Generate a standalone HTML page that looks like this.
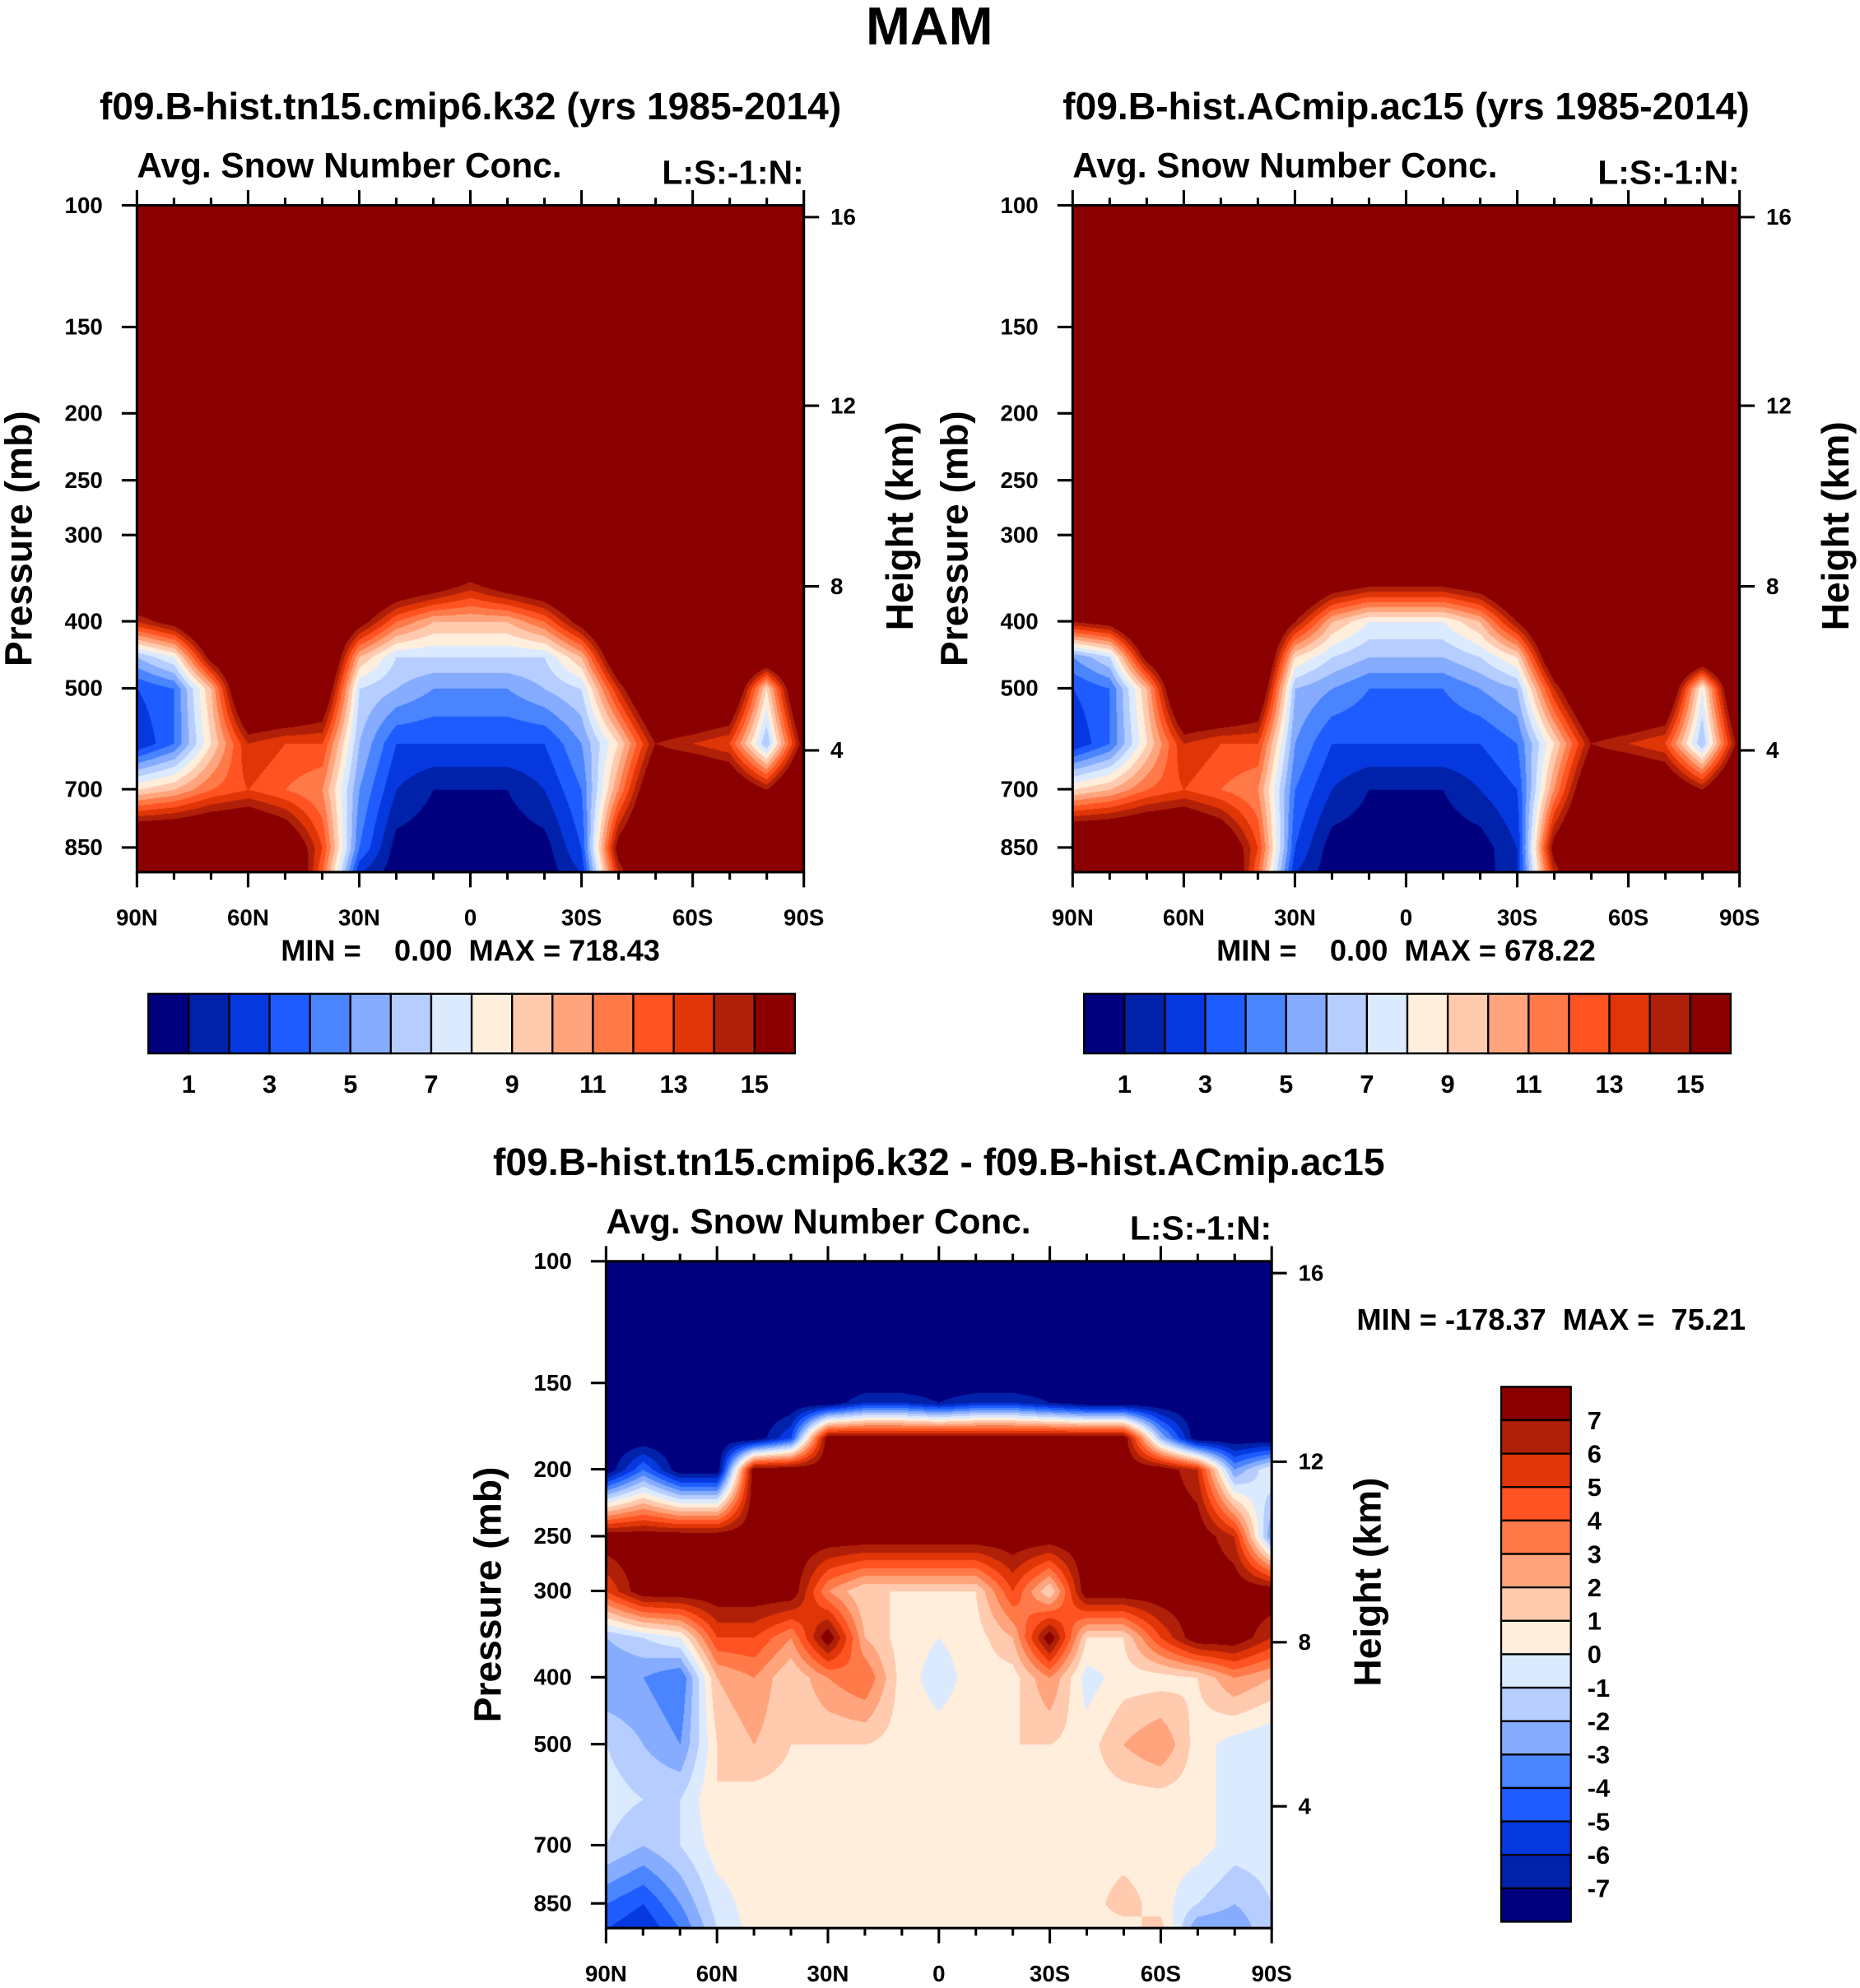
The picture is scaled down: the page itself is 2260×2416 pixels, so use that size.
<!DOCTYPE html>
<html><head><meta charset="utf-8"><style>
html,body{margin:0;padding:0;background:#fff;}
#wrap{position:relative;width:2260px;height:2416px;overflow:hidden;}
#stage{position:absolute;left:0;top:0;width:1467px;height:1568px;transform:scale(1.54055);transform-origin:0 0;}
canvas{position:absolute;}
svg{position:absolute;left:0;top:0;}
text{font-family:"Liberation Sans",sans-serif;font-weight:bold;fill:#000;white-space:pre;}
</style></head><body>
<div id="wrap"><div id="stage">
<canvas id="c1" style="left:108px;top:162px;width:526px;height:526px"></canvas>
<canvas id="c2" style="left:846px;top:162px;width:526px;height:526px"></canvas>
<canvas id="c3" style="left:478px;top:995px;width:525px;height:526px"></canvas>
<svg id="ov" width="1467" height="1568" viewBox="0 0 1467 1568"></svg>
</div></div>
<script>
const lats=[90,80,70,60,50,40,30,20,10,0,-10,-20,-30,-40,-50,-60,-70,-80,-90];
const presA=[100,150,200,250,300,350,400,450,500,600,700,850,925];
const field1=[
[20,20,20,15,18,20,20,20,20,20,20,20,20,20,15,16,20,20,20],
[20,20,20,20,20,20,20,20,20,20,20,20,20,20,20,20,20,20,20],
[20,20,20,20,20,20,20,20,20,20,20,20,20,20,20,20,20,20,20],
[20,20,20,20,20,20,20,20,20,20,20,20,20,20,20,20,20,20,20],
[20,20,20,20,20,20,20,20,20,20,20,20,20,20,20,20,20,20,20],
[20,20,20,20,20,20,20,18,17,15,17,18,20,20,20,20,20,20,20],
[14,16,20,20,20,20,16,12,10,10,10,12,16,20,20,20,20,20,20],
[6,8,16,20,20,20,10,7,7,7,7,7,10,18,20,20,20,18,20],
[3,4,10,20,20,18,7,6,5,5,5,6,7,14,20,20,19,9,20],
[2,4,9,14,13,13,6,3,3,3,3,3,5,9,15,14,13,6,16],
[9,10,12,13,12,11,5,2,1,1,1,2,4,11,18,19,18,15,20],
[20,20,20,20,18,13,4,0.5,0.3,0.3,0.3,0.5,3,16,20,20,20,20,20],
[20,20,20,20,20,12,2,0.3,0.2,0.2,0.2,0.3,2,14,20,20,20,20,20]];
const field2=[
[20,20,20,15,18,20,20,20,20,20,20,20,20,20,15,16,20,20,20],
[20,20,20,20,20,20,20,20,20,20,20,20,20,20,20,20,20,20,20],
[20,20,20,20,20,20,20,20,20,20,20,20,20,20,20,20,20,20,20],
[20,20,20,20,20,20,20,20,20,20,20,20,20,20,20,20,20,20,20],
[20,20,20,20,20,20,20,20,20,20,20,20,20,20,20,20,20,20,20],
[20,20,20,20,20,20,20,17,16,16,16,17,20,20,20,20,20,20,20],
[15,16,20,20,20,20,15,10,8,8,8,10,15,20,20,20,20,20,20],
[5,7,16,20,20,20,9,7,6,6,6,7,9,18,20,20,20,18,20],
[3,4,10,20,20,18,6,5,4,4,4,5,6,14,20,20,19,8,20],
[2,4,9,14,13,13,5,3,3,3,3,3,4,9,15,14,13,6,16],
[9,10,12,13,12,11,4,2,1,1,1,2,3,11,18,19,18,15,20],
[20,20,20,20,18,13,3,0.4,0.3,0.3,0.3,0.4,2,16,20,20,20,20,20],
[20,20,20,20,20,12,2,0.3,0.2,0.2,0.2,0.3,2,14,20,20,20,20,20]];
const presD=[100,150,160,180,200,250,300,350,400,500,600,700,850,925];
const fieldD=[
[-8,-8,-8,-8,-8,-8,-8,-8,-8,-8,-8,-8,-8,-8,-8,-8,-8,-8,-8],
[-8,-8,-8,-8,-8,-8,-8,-8,-8,-8,-8,-8,-8,-8,-8,-8,-8,-8,-8],
[-8,-8,-8,-8,-8,-8,-8,-6,-6,-7,-6,-6,-7,-8,-8,-8,-8,-8,-8],
[-8,-8,-8,-8,-8,-5,8,8,8,8,8,8,8,8,8,-2,-8,-8,-8],
[-8,-4,-8,-8,8,8,8,8,8,8,8,8,8,8,8,8,6,-3,0],
[8,8,8,8,8,8,8,8,8,8,8,8,8,8,8,8,8,6,-3],
[5,8,8,8,8,8,3,1,1,1,1,5,1,8,8,8,8,8,8],
[-2,-1,0,5,5,3,8,2,0.5,0,0.5,2,8,1,1,5,8,8,6],
[-3,-3,-4,2,3,1,3,4,0.5,-0.5,0.5,0.5,3,-0.5,0.5,0.5,1,3,2],
[-1,-2,-3,1,2,1,1,1,0.5,0.5,0.5,1,1,0.5,2,3,0.5,-0.5,-1],
[-0.5,-1,-1,1,0.5,0.5,0.5,0.5,0.5,0.5,0.5,0.5,0.5,0.5,0.5,0.5,0.5,-0.5,-0.5],
[-1,-2,-1,0.5,0.5,0.5,0.5,0.5,0.5,0.5,0.5,0.5,0.5,0.5,0.5,0.5,0.5,-0.5,-0.5],
[-4,-5,-3,-0.5,0.5,0.5,0.5,0.5,0.5,0.5,0.5,0.5,0.5,0.5,1.5,0.5,-1,-2,-1],
[-5,-6,-4,-1,0.5,0.5,0.5,0.5,0.5,0.5,0.5,0.5,0.5,0.5,0.5,1.5,-3,-3,-1]];
const absLabels=['1','3','5','7','9','11','13','15'];
const diffLabels=['7','6','5','4','3','2','1','0','-1','-2','-3','-4','-5','-6','-7'];
const pTicks=[100,150,200,250,300,400,500,700,850];
const hTicks=[16,12,8,4];
const hTickPres=[104,195,356,615];
const latLabels=['90N','60N','30N','0','30S','60S','90S'];
const colors=['#00007f','#0022aa','#0638e0','#1e5cff','#4a84ff','#86acff','#b6ceff','#dceaff','#ffeedc','#ffcaae','#ffa47c','#ff7a48','#ff5322','#e03506','#b02008','#8a0000'];

const S=1.54055, PTOP=100, DEC=545;
function yOfP(p,y0){return y0+Math.log10(p/PTOP)*DEC;}
function draw(id,lats,pres,field,idxFn){
  const c=document.getElementById(id);
  const W=Math.round(parseFloat(c.style.width)*S),H=Math.round(parseFloat(c.style.height)*S);
  c.width=W;c.height=H;const ctx=c.getContext('2d');const img=ctx.createImageData(W,H);
  const lp=pres.map(p=>Math.log10(p));
  const rgb=colors.map(h=>[parseInt(h.substr(1,2),16),parseInt(h.substr(3,2),16),parseInt(h.substr(5,2),16)]);
  for(let j=0;j<H;j++){
    const L=Math.log10(PTOP)+(j/S)/DEC;
    let r=0;while(r<lp.length-2&&lp[r+1]<L)r++;
    let fy=(L-lp[r])/(lp[r+1]-lp[r]);fy=Math.max(0,Math.min(1,fy));
    for(let i=0;i<W;i++){
      const lat=90-180*i/(W-1);
      let k=0;while(k<lats.length-2&&lats[k+1]>lat)k++;
      let fx=(lats[k]-lat)/(lats[k]-lats[k+1]);fx=Math.max(0,Math.min(1,fx));
      const v=(field[r][k]*(1-fx)+field[r][k+1]*fx)*(1-fy)+(field[r+1][k]*(1-fx)+field[r+1][k+1]*fx)*fy;
      const col=rgb[idxFn(v)];const o=(j*W+i)*4;
      img.data[o]=col[0];img.data[o+1]=col[1];img.data[o+2]=col[2];img.data[o+3]=255;
    }
  }
  ctx.putImageData(img,0,0);
}
const absIdx=v=>Math.max(0,Math.min(15,Math.floor(v)));
const diffIdx=v=>Math.max(0,Math.min(15,Math.floor(v)+8));
draw('c1',lats,presA,field1,absIdx);
draw('c2',lats,presA,field2,absIdx);
draw('c3',lats,presD,fieldD,diffIdx);

const ov=document.getElementById('ov');const NS='http://www.w3.org/2000/svg';
function el(tag,attrs,txt){const e=document.createElementNS(NS,tag);for(const k in attrs)e.setAttribute(k,attrs[k]);if(txt!==undefined)e.textContent=txt;ov.appendChild(e);return e;}
let t=el('text',{x:733,y:35,'text-anchor':'middle','font-size':42},'MAM');



function panel(x0,y0,w,h,title,titleY,tag){
  const x1=x0+w,y1=y0+h;
  let e=el('text',{x:x0+w/2,y:titleY,'text-anchor':'middle','font-size':30},title);
  
  
  e=el('text',{x:x0,y:y0-22,'font-size':27.5},'Avg. Snow Number Conc.');
  
  
  e=el('text',{x:x1,y:y0-17,'text-anchor':'end','font-size':26.5},'L:S:-1:N:');
  
  
  e=el('rect',{x:x0,y:y0,width:w,height:h,fill:'none',stroke:'#000','stroke-width':2});
  
  
  pTicks.forEach(p=>{const y=yOfP(p,y0);
    el('line',{x1:x0-12,y1:y,x2:x0,y2:y,stroke:'#000','stroke-width':2});
    const l=el('text',{x:x0-27,y:y+6,'text-anchor':'end','font-size':18},String(p));
    
    });
  hTicks.forEach((hk,i)=>{const y=yOfP(hTickPres[i],y0);
    el('line',{x1:x1,y1:y,x2:x1+12,y2:y,stroke:'#000','stroke-width':2});
    const l=el('text',{x:x1+21,y:y+6,'font-size':18},String(hk));
    
    });
  for(let k=0;k<=18;k++){const x=x0+w*k/18;const maj=k%3==0;
    el('line',{x1:x,y1:y1,x2:x,y2:y1+(maj?12:6),stroke:'#000','stroke-width':2});
    el('line',{x1:x,y1:y0,x2:x,y2:y0-(maj?12:6),stroke:'#000','stroke-width':2});
    if(maj){const l=el('text',{x:x,y:y1+42,'text-anchor':'middle','font-size':18},latLabels[k/3]);
      
      }}
  e=el('text',{x:0,y:0,'text-anchor':'middle','font-size':30,transform:`translate(${x0-83},${y0+h/2}) rotate(-90)`},'Pressure (mb)');
  
  
  e=el('text',{x:0,y:0,'text-anchor':'middle','font-size':30,transform:`translate(${x1+86},${y0+h/2-10}) rotate(-90)`},'Height (km)');
  
  
}
panel(108,162,526,526,'f09.B-hist.tn15.cmip6.k32 (yrs 1985-2014)',94,'panel1');
panel(846,162,526,526,'f09.B-hist.ACmip.ac15 (yrs 1985-2014)',94,'panel2');
panel(478,995,525,526,'f09.B-hist.tn15.cmip6.k32 - f09.B-hist.ACmip.ac15',927,'diff');

function minmax(x,y,s,anchor,tag){const e=el('text',{x:x,y:y,'text-anchor':anchor,'font-size':23.5},s);
  
  }
minmax(371,758,'MIN =    0.00  MAX = 718.43','middle','panel1');
minmax(1109,758,'MIN =    0.00  MAX = 678.22','middle','panel2');
minmax(1070,1049,'MIN = -178.37  MAX =  75.21','start','diff');

function hbar(x0,y0,w,h,tag){const bw=w/16;
  colors.forEach((c,i)=>{const r=el('rect',{x:x0+i*bw,y:y0,width:bw,height:h,fill:c,stroke:'#000','stroke-width':1.5});
    
    });
  absLabels.forEach((s,i)=>{const l=el('text',{x:x0+bw*(1+2*i),y:y0+h+31,'text-anchor':'middle','font-size':20},s);
    
    });}
hbar(117,784,510,47,'panel1');
hbar(855,784,510,47,'panel2');
(function(){const x0=1184,y0=1094,w=55,h=422,bh=h/16;
  colors.slice().reverse().forEach((c,i)=>{const r=el('rect',{x:x0,y:y0+i*bh,width:w,height:bh,fill:c,stroke:'#000','stroke-width':1.5});
    
    });
  diffLabels.forEach((s,i)=>{const l=el('text',{x:x0+w+13,y:y0+bh*(i+1)+7,'font-size':20},s);
    
    });})();
</script>
</body></html>
